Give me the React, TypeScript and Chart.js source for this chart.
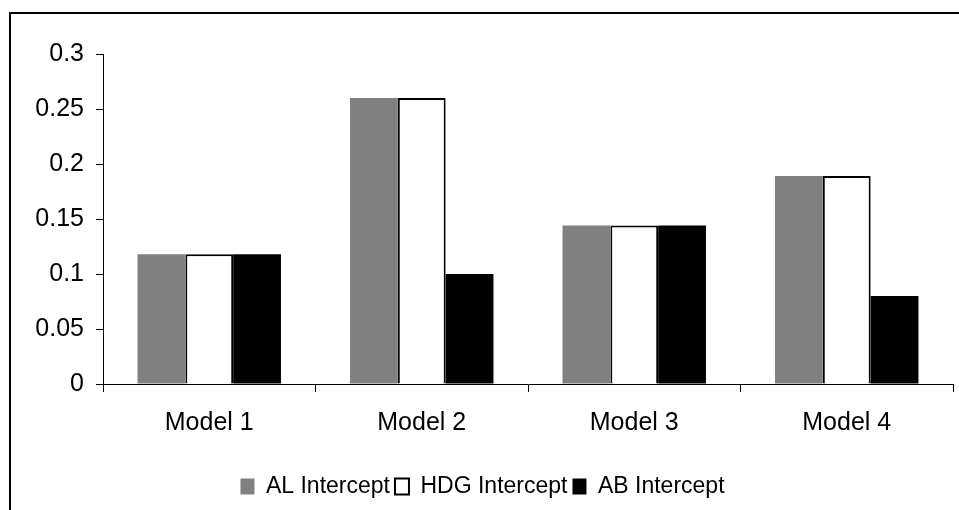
import React, { useEffect, useRef } from "react";
import { Chart, registerables } from "chart.js";

Chart.register(...registerables);

const categories = ["Model 1", "Model 2", "Model 3", "Model 4"];
const alIntercept = [0.118, 0.26, 0.144, 0.189];
const hdgIntercept = [0.118, 0.26, 0.144, 0.189];
const abIntercept = [0.118, 0.1, 0.144, 0.08];
const seriesNames = ["AL Intercept", "HDG Intercept", "AB Intercept"];

export default function App() {
  const ref = useRef<HTMLCanvasElement | null>(null);

  useEffect(() => {
    const canvas = ref.current;
    if (!canvas) return;
    const font = "'Liberation Sans', Arial, sans-serif";
    const chart = new Chart(canvas, {
      type: "bar",
      data: {
        labels: categories,
        datasets: [
          { label: seriesNames[0], data: alIntercept, backgroundColor: "#808080", borderColor: "#808080", borderWidth: 0 },
          { label: seriesNames[1], data: hdgIntercept, backgroundColor: "#ffffff", borderColor: "#000000", borderWidth: 2 },
          { label: seriesNames[2], data: abIntercept, backgroundColor: "#000000", borderColor: "#000000", borderWidth: 0 },
        ],
      },
      options: {
        responsive: false,
        animation: false,
        devicePixelRatio: 1,
        layout: { padding: { left: 12, top: 54, right: 6, bottom: 2 } },
        datasets: { bar: { categoryPercentage: 0.675, barPercentage: 1 } },
        plugins: {
          legend: {
            position: "bottom",
            labels: { color: "#000", font: { family: font, size: 23 }, boxWidth: 14, boxHeight: 16, padding: 5 },
          },
          tooltip: { enabled: false },
          title: { display: false },
        },
        scales: {
          x: {
            grid: { display: true, drawOnChartArea: false, drawTicks: true, tickLength: 8, tickColor: "#000", offset: true },
            border: { display: true, color: "#000", width: 1 },
            ticks: { color: "#000", font: { family: font, size: 25 }, padding: 16, maxRotation: 0 },
            afterFit: (scale: any) => { scale.height = 86; },
          },
          y: {
            min: 0,
            max: 0.3,
            grid: { display: true, drawOnChartArea: false, drawTicks: true, tickLength: 7, tickColor: "#000" },
            border: { display: true, color: "#000", width: 1 },
            ticks: {
              stepSize: 0.05,
              color: "#000",
              font: { family: font, size: 25 },
              padding: 12,
              callback: (v: any) => String(Math.round(Number(v) * 100) / 100),
            },
            afterFit: (scale: any) => { scale.width = 91; },
          },
        },
      },
    });
    return () => chart.destroy();
  }, []);

  return (
    <div style={{ position: "absolute", left: 0, top: 0, width: 959, height: 510, overflow: "hidden", background: "#fff" }}>
      <canvas ref={ref} width={959} height={510} style={{ position: "absolute", left: 0, top: 0, width: 959, height: 510 }} />
      <div style={{ position: "absolute", left: 9, top: 12, width: 960, height: 510, borderLeft: "2px solid #000", borderTop: "2px solid #000", pointerEvents: "none" }} />
    </div>
  );
}
